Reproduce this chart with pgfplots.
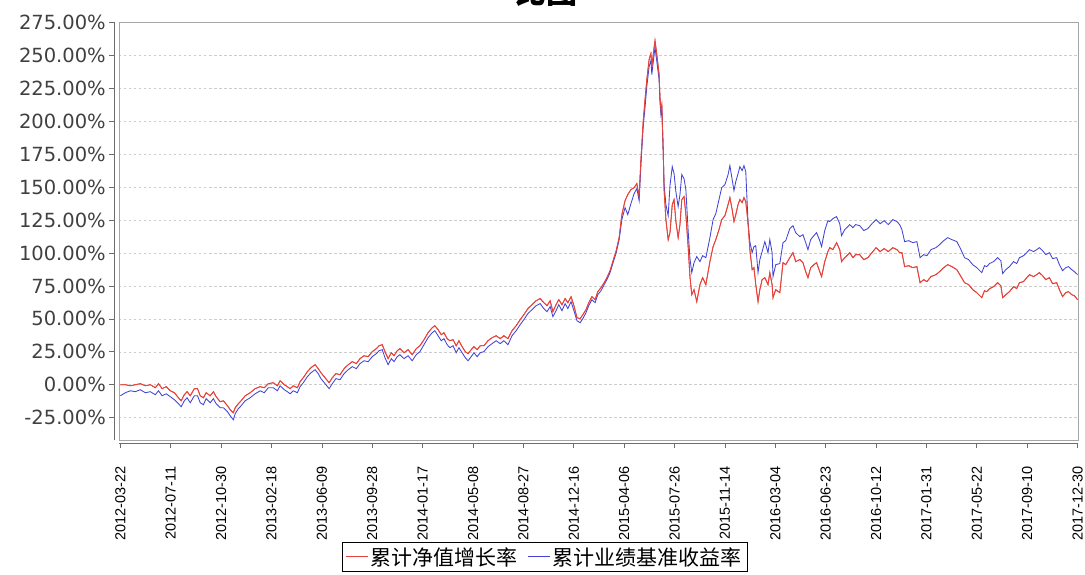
\documentclass[border=0pt]{standalone}
\usepackage{pgfplots}
\usepackage{pgfplotstable}
\pgfplotsset{compat=1.18}
\usepackage{fontspec}
\setmainfont{DejaVu Sans}
\newfontfamily\libsans{Liberation Sans}
\newfontfamily\cjk{Noto Sans CJK SC}
\definecolor{redline}{RGB}{230,66,58}
\definecolor{blueline}{RGB}{66,66,214}
\definecolor{ticktext}{RGB}{64,64,64}

\pgfplotstableread{
d v
0 0
11 0
22 -0.8
33 0
44 0.8
55 -0.8
66 0
77 -2.3
84 0.8
92 -3.0
101 -1.5
110 -4.6
119 -6.1
128 -9.9
134 -12.2
141 -7.6
147 -5.3
154 -8.4
163 -3.0
170 -3.0
176 -8.4
183 -9.9
189 -6.1
198 -8.4
205 -5.3
211 -9.1
220 -12.9
227 -12.2
236 -16.0
242 -19.0
249 -21.3
253 -17.5
260 -14.4
266 -12.2
275 -8.4
286 -6.1
297 -3.0
308 -1.5
317 -2.3
326 0.8
337 1.5
346 -0.8
352 3.0
361 0
368 -1.5
374 -3.0
381 -0.8
390 -2.3
396 2.3
403 5.3
412 9.9
420 12.9
429 15.2
436 12.2
442 9.1
451 5.3
460 1.5
467 5.3
475 8.4
484 7.6
493 12.2
502 15.2
511 17.5
520 16.0
528 19.8
537 22.0
546 21.3
555 25.1
564 27.4
570 29.6
577 30.4
583 25.1
590 19.8
597 24.3
603 22.0
610 25.8
616 27.4
625 24.3
634 26.6
643 22.8
652 27.4
660 29.6
669 34.2
678 39.5
687 43.3
693 44.8
700 41.8
707 38.0
713 39.5
720 35.0
726 33.4
733 34.2
740 29.6
746 33.4
753 28.9
760 25.1
766 23.6
773 26.6
779 28.9
786 26.6
793 29.6
801 29.6
810 33.4
819 35.7
828 37.2
837 35.0
845 37.2
854 35.0
863 41.0
872 44.8
881 49.4
889 53.2
898 57.8
907 60.8
916 63.8
925 65.4
933 62.3
940 60.0
947 63.8
953 55.5
960 60.8
966 64.6
973 60.8
980 65.4
986 62.3
993 66.9
1000 59.3
1006 50.9
1013 50.2
1019 53.2
1026 57.0
1032 62.3
1039 66.9
1046 64.6
1052 70.7
1059 73.7
1066 77.5
1072 81.3
1079 86.6
1085 93.5
1092 101.1
1099 111.7
1105 129.2
1112 139.8
1118 144.4
1125 148.2
1132 149.7
1138 152.8
1143 142.9
1147 171.0
1152 199.9
1156 216.6
1160 231.8
1165 247.0
1169 251.6
1171 241.7
1176 256.1
1178 261.4
1182 250.8
1187 235.6
1189 218.1
1191 209.0
1193 212.8
1196 178.6
1198 148.2
1202 125.4
1207 110.2
1211 115.5
1216 136.8
1220 140.6
1224 123.9
1229 111.7
1233 121.6
1237 140.6
1242 142.9
1246 129.2
1251 104.9
1255 82.1
1259 68.4
1264 72.2
1270 63.1
1277 76.0
1283 81.3
1290 76.0
1299 93.5
1306 104.9
1312 110.2
1319 117.8
1325 125.4
1332 128.4
1339 136.8
1343 142.1
1348 133.0
1352 123.9
1356 129.2
1361 136.8
1365 140.6
1370 138.3
1374 142.1
1378 139.1
1383 123.1
1387 102.6
1392 87.4
1396 88.9
1400 76.0
1405 63.1
1409 72.2
1414 79.8
1420 81.3
1427 76.0
1431 85.1
1436 76.0
1438 66.1
1444 72.2
1453 69.9
1460 92.7
1466 91.2
1475 96.5
1482 100.3
1488 93.5
1497 95.0
1504 92.7
1510 85.9
1515 81.3
1521 88.9
1528 91.2
1534 92.7
1541 85.9
1545 82.1
1552 93.5
1559 101.1
1563 104.1
1570 102.6
1578 107.9
1585 102.6
1589 93.5
1596 96.5
1603 98.8
1607 100.3
1614 96.5
1620 98.8
1629 98.8
1638 95.0
1647 96.5
1656 100.3
1665 104.1
1674 101.1
1683 103.4
1692 101.1
1702 104.1
1711 102.6
1717 100.3
1722 100.3
1728 89.7
1737 90.4
1746 88.9
1755 89.7
1762 77.5
1770 79.8
1777 78.3
1786 82.1
1797 83.6
1805 85.9
1814 88.9
1823 91.2
1832 89.7
1843 87.4
1851 82.8
1860 77.5
1869 76.0
1878 72.2
1887 69.9
1898 66.1
1904 71.4
1909 70.7
1915 72.9
1924 74.5
1933 77.5
1940 75.2
1944 66.1
1951 68.4
1959 70.7
1968 74.5
1975 73.0
1981 77.5
1990 78.3
1997 81.3
2003 83.6
2012 82.1
2019 83.6
2025 85.1
2032 82.8
2039 79.8
2047 81.3
2054 76.7
2063 77.5
2069 72.2
2076 66.9
2083 69.9
2089 70.7
2096 68.4
2102 67.6
2109 64.6
}\rednav

\pgfplotstableread{
d v
0 -8.4
11 -6.1
22 -4.6
33 -5.3
44 -3.8
55 -6.1
66 -5.3
77 -7.6
84 -4.6
92 -8.4
101 -6.9
110 -9.1
119 -11.4
128 -14.4
134 -16.7
141 -12.2
147 -9.9
154 -13.7
163 -8.4
170 -8.4
176 -13.7
183 -15.2
189 -10.6
198 -13.7
205 -10.6
211 -14.4
220 -17.5
227 -17.5
236 -20.5
242 -23.6
249 -26.6
253 -22.0
260 -18.2
266 -16.0
275 -12.2
286 -9.9
297 -6.9
308 -4.6
317 -6.1
326 -2.3
337 -2.3
346 -4.6
352 -0.8
361 -3.8
368 -5.3
374 -6.9
381 -4.6
390 -6.1
396 -1.5
403 1.5
412 6.1
420 9.1
429 11.4
436 8.4
442 4.6
451 0.8
460 -3.0
467 0.8
475 4.6
484 3.8
493 8.4
502 11.4
511 13.7
520 12.2
528 16.0
537 18.2
546 17.5
555 21.3
564 23.6
570 25.8
577 26.6
583 20.5
590 15.2
597 19.8
603 17.5
610 21.3
616 22.8
625 19.8
634 22.0
643 18.2
652 22.8
660 25.1
669 30.4
678 35.7
687 39.5
693 41.0
700 37.2
707 33.4
713 35.0
720 30.4
726 28.1
733 29.6
740 24.3
746 28.1
753 24.3
760 20.5
766 18.2
773 21.3
779 24.3
786 21.3
793 24.3
801 25.1
810 28.9
819 31.2
828 33.4
837 31.2
845 33.4
854 30.4
863 37.2
872 41.0
881 45.6
889 49.4
898 54.0
907 57.0
916 60.0
925 61.6
933 57.8
940 55.5
947 59.3
953 51.7
960 56.2
966 60.8
973 56.2
980 61.6
986 57.8
993 63.1
1000 55.5
1006 48.6
1013 47.1
1019 50.2
1026 54.7
1032 60.0
1039 64.6
1046 62.3
1052 68.4
1059 71.4
1066 76.0
1072 79.8
1079 85.1
1085 92.0
1092 99.6
1099 110.2
1105 125.4
1112 134.5
1118 129.2
1125 137.6
1132 145.2
1138 149.0
1143 139.8
1147 167.2
1152 196.1
1156 210.5
1160 226.5
1165 241.7
1169 246.2
1171 235.6
1176 250.8
1178 256.1
1182 245.5
1187 231.8
1189 214.3
1191 205.2
1193 209.0
1196 178.6
1198 152.0
1202 136.8
1207 128.4
1211 151.2
1216 165.6
1220 160.3
1224 146.6
1229 135.3
1233 144.4
1237 159.6
1242 156.5
1246 148.2
1251 117.1
1255 95.8
1259 85.1
1264 92.7
1270 97.3
1277 93.5
1283 98.0
1290 96.5
1299 111.7
1306 125.4
1312 130.0
1319 140.6
1325 149.7
1332 152.0
1339 159.6
1343 166.4
1348 155.8
1352 147.4
1356 154.3
1361 160.3
1365 165.6
1370 162.6
1374 166.4
1378 161.8
1383 123.1
1387 108.7
1392 100.3
1396 104.9
1400 105.6
1405 85.1
1409 95.0
1414 101.1
1420 108.7
1427 100.3
1431 110.2
1436 100.3
1438 82.1
1444 91.2
1453 92.0
1460 107.9
1466 109.4
1475 118.6
1482 120.8
1488 115.5
1497 112.5
1504 114.0
1510 107.9
1515 102.6
1521 110.2
1528 113.2
1534 115.5
1541 109.4
1545 104.9
1552 117.1
1559 124.6
1563 123.9
1570 126.2
1578 127.7
1585 122.3
1589 113.2
1596 117.8
1603 120.1
1607 121.6
1614 119.3
1620 121.6
1629 120.8
1638 117.1
1647 118.6
1656 122.3
1665 125.4
1674 122.3
1683 124.6
1692 121.6
1702 125.4
1711 123.9
1717 121.6
1722 117.8
1728 108.7
1737 109.4
1746 107.9
1755 108.7
1762 96.5
1770 98.8
1777 98.0
1786 102.6
1797 104.1
1805 106.4
1814 109.4
1823 111.7
1832 110.2
1843 108.7
1851 103.4
1860 96.5
1869 95.0
1878 91.2
1887 88.9
1898 85.1
1904 90.4
1909 89.7
1915 92.0
1924 93.5
1933 96.5
1940 94.2
1944 84.4
1951 87.4
1959 89.7
1968 93.5
1975 92.0
1981 96.5
1990 98.0
1997 100.3
2003 102.6
2012 101.1
2019 102.6
2025 104.1
2032 101.8
2039 98.8
2047 100.3
2054 95.8
2063 96.5
2069 91.2
2076 86.6
2083 88.9
2089 89.7
2096 87.4
2102 85.9
2109 83.6
}\bench

\begin{document}
\begin{tikzpicture}
\begin{axis}[
  at={(119pt,134pt)}, anchor=south west,
  scale only axis, width=959pt, height=418pt,
  xmin=-3, xmax=2110, ymin=-42, ymax=275.5,
  axis x line=bottom, axis y line=left,
  axis x line shift=3pt, axis y line shift=5pt,
  axis line style={-, draw=gray!85!black, line width=0.8pt},
  tick align=outside, major tick length=5pt,
  tick style={gray!85!black, line width=0.6pt},
  xtick={0,111,...,2109},
  xticklabels={2012-03-22,2012-07-11,2012-10-30,2013-02-18,2013-06-09,2013-09-28,2014-01-17,2014-05-08,2014-08-27,2014-12-16,2015-04-06,2015-07-26,2015-11-14,2016-03-04,2016-06-23,2016-10-12,2017-01-31,2017-05-22,2017-09-10,2017-12-30},
  xticklabel style={rotate=90, anchor=east, font=\libsans\fontsize{14.5}{15}\selectfont, text=black, inner sep=2pt},
  xticklabel shift=16pt,
  ytick={-25,0,25,50,75,100,125,150,175,200,225,250,275},
  yticklabels={-25.00\%,0.00\%,25.00\%,50.00\%,75.00\%,100.00\%,125.00\%,150.00\%,175.00\%,200.00\%,225.00\%,250.00\%,275.00\%},
  yticklabel style={font=\fontsize{19.5}{20}\selectfont, text=ticktext, inner sep=2pt},
  yticklabel shift=1pt,
  ymajorgrids,
  grid style={gray!40, dash pattern=on 2.5pt off 2.5pt, line width=0.5pt},
  legend style={at={(axis description cs:0.444,-0.244)}, anchor=north,
    legend columns=2, draw=black, line width=0.6pt,
    font=\cjk\fontsize{21}{22}\selectfont, inner sep=3pt,
    /tikz/every even column/.append style={column sep=8pt}},
  after end axis/.code={\draw[gray!70, line width=0.6pt] (rel axis cs:0,0) rectangle (rel axis cs:1,1);},
]
\addplot[redline, line width=0.85pt,
  legend image code/.code={\draw[draw=redline, line width=1.1pt] (0pt,0pt) -- (22pt,0pt);}]
  table[x=d, y=v] {\rednav};
\addlegendentry{累计净值增长率}
\addplot[blueline, line width=0.85pt,
  legend image code/.code={\draw[draw=blueline, line width=1.1pt] (0pt,0pt) -- (22pt,0pt);}]
  table[x=d, y=v] {\bench};
\addlegendentry{累计业绩基准收益率}
\addplot[redline, line width=0.85pt, forget plot] table[x=d, y=v] {\rednav};
\end{axis}
\node[anchor=base, font=\cjk\bfseries\fontsize{31}{32}\selectfont] at (546pt,570pt) {比图};
\pgfresetboundingbox
\useasboundingbox (0,0) rectangle (1085pt,574pt);
\end{tikzpicture}
\end{document}
